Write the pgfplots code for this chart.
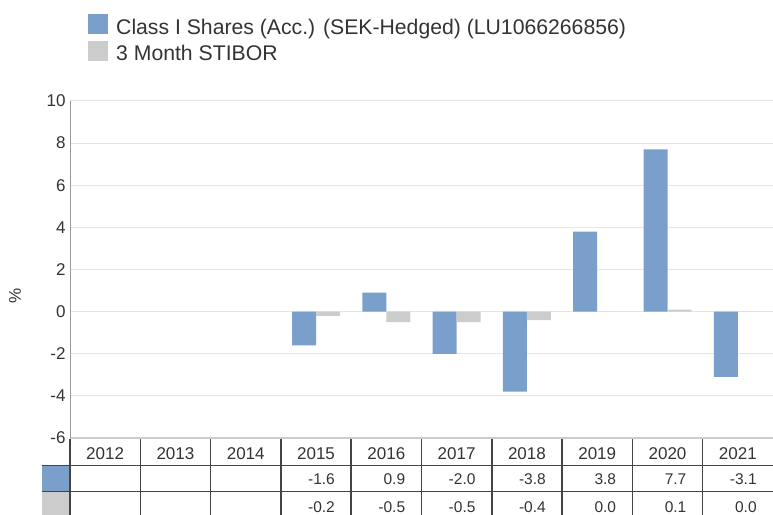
\documentclass[border=0pt]{standalone}
\usepackage{pgfplots}
\pgfplotsset{compat=1.18}
\usepackage{fontspec}
\setmainfont{Liberation Sans}
\definecolor{fundblue}{HTML}{7A9FCB}
\definecolor{benchgray}{HTML}{CCCCCC}
\definecolor{txt}{HTML}{333333}
\definecolor{tline}{HTML}{444444}
\definecolor{gridc}{HTML}{E6E6E6}
\begin{document}
\begin{tikzpicture}
\begin{axis}[
  name=ax,
  scale only axis,
  width=703bp, height=337bp,
  xmin=-0.5, xmax=9.5,
  ymin=-6, ymax=10,
  ytick={-6,-4,...,10},
  xtick={0,...,9},
  xticklabels={2012,2013,2014,2015,2016,2017,2018,2019,2020,2021},
  major tick length=0pt,
  axis x line*=bottom, axis y line*=left,
  x axis line style={draw=benchgray, line width=2bp},
  y axis line style={draw=gray!80, line width=0.8bp},
  ymajorgrids, grid style={draw=gridc, line width=1bp},
  /pgf/number format/assume math mode=true,
  tick label style={font=\fontsize{17bp}{20bp}\selectfont, text=txt},
  yticklabel style={xshift=-1bp},
  xticklabel style={anchor=center, yshift=-15.3bp, inner sep=0pt},
  ylabel={\%},
  every axis y label/.style={at={(rel axis cs:0,0.423)}, xshift=-55bp, anchor=center, rotate=90,
    font=\fontsize{17bp}{20bp}\selectfont, text=txt},
  clip=false,
  legend style={at={(rel axis cs:0.0256,1.258)}, anchor=north west, draw=none, fill=none,
    font=\fontsize{21.2bp}{24bp}\selectfont, text=txt, inner sep=0pt, row sep=2.5bp, column sep=8bp,
    nodes={inner sep=0pt, text height=15bp, text depth=4bp, anchor=west}},
  legend cell align=left,
  legend image code/.code={\fill[#1] (0bp,-5.5bp) rectangle (20bp,14.5bp);},
]
\addplot[ybar, bar width=24bp, bar shift=-12bp, fill=fundblue, draw=none]
  coordinates {(3,-1.6) (4,0.9) (5,-2.0) (6,-3.8) (7,3.8) (8,7.7) (9,-3.1)};
\addlegendentry{Class I Shares (Acc.) (SEK-Hedged) (LU1066266856)}
\addplot[ybar, bar width=24bp, bar shift=12bp, fill=benchgray, draw=none]
  coordinates {(3,-0.2) (4,-0.5) (5,-0.5) (6,-0.4) (7,0.0) (8,0.1) (9,0.0)};
\addlegendentry{3 Month STIBOR}
% table rows (text from the same values)
\addplot[draw=none, mark=none, forget plot, point meta=explicit symbolic,
  nodes near coords, every node near coord/.style={anchor=east, xshift=19bp, inner sep=0pt,
  font=\fontsize{15.5bp}{18bp}\selectfont, text=txt}]
  coordinates {(3,-7.947)[-1.6] (4,-7.947)[0.9] (5,-7.947)[-2.0] (6,-7.947)[-3.8] (7,-7.947)[3.8] (8,-7.947)[7.7] (9,-7.947)[-3.1]};
\addplot[draw=none, mark=none, forget plot, point meta=explicit symbolic,
  nodes near coords, every node near coord/.style={anchor=east, xshift=19bp, inner sep=0pt,
  font=\fontsize{15.5bp}{18bp}\selectfont, text=txt}]
  coordinates {(3,-9.276)[-0.2] (4,-9.276)[-0.5] (5,-9.276)[-0.5] (6,-9.276)[-0.4] (7,-9.276)[0.0] (8,-9.276)[0.1] (9,-9.276)[0.0]};
% table swatches and lines
\fill[fundblue] (axis cs:-0.898,-7.306) rectangle (axis cs:-0.5,-8.54);
\fill[benchgray] (axis cs:-0.898,-8.54) rectangle (axis cs:-0.5,-9.70);
\draw[tline, line width=1.5bp] (axis cs:-0.898,-7.306) -- (axis cs:9.5,-7.306);
\draw[tline, line width=1.5bp] (axis cs:-0.898,-8.54) -- (axis cs:9.5,-8.54);
\pgfplotsinvokeforeach{-0.5,0.5,1.5,2.5,3.5,4.5,5.5,6.5,7.5,8.5}{
  \draw[tline, line width=1.5bp] (axis cs:#1,-6.05) -- (axis cs:#1,-9.70);
}
\end{axis}
\pgfresetboundingbox
\path[use as bounding box] ([shift={(-70bp,-77bp)}]ax.south west) rectangle ([shift={(703bp,438bp)}]ax.south west);
\end{tikzpicture}
\end{document}
